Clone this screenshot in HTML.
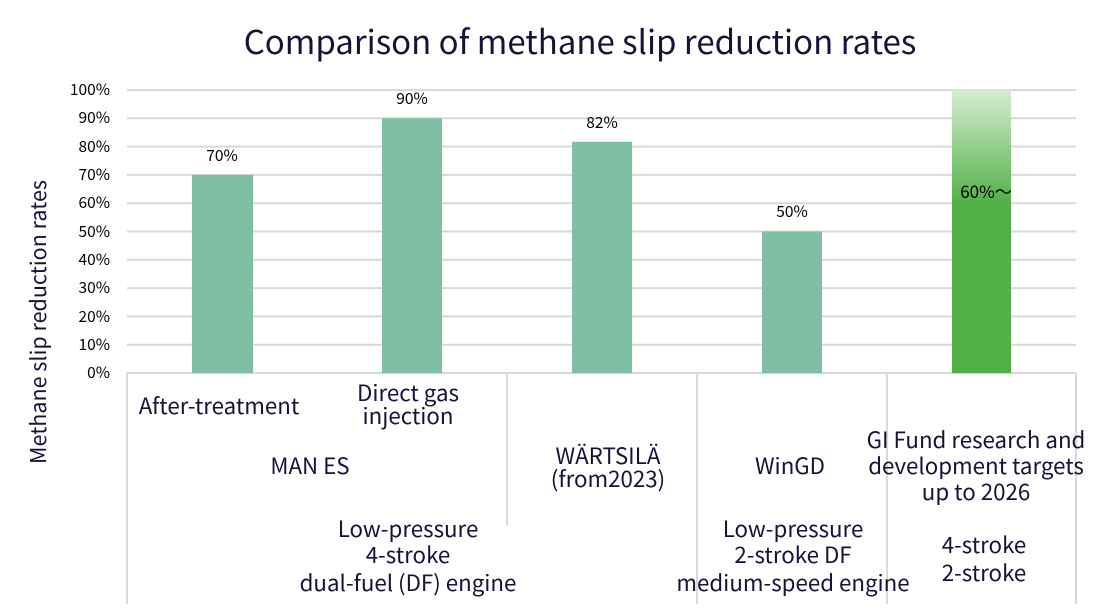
<!DOCTYPE html>
<html><head><meta charset="utf-8"><style>
html,body{margin:0;padding:0;background:#fff;}
svg{display:block;font-family:"Noto Sans CJK JP","Liberation Sans",sans-serif;}
</style></head><body>
<svg width="1100" height="614" viewBox="0 0 1100 614" xmlns="http://www.w3.org/2000/svg">
<defs>
<linearGradient id="g" x1="0" y1="0" x2="0" y2="1">
<stop offset="0" stop-color="#d6edd2"/>
<stop offset="0.4" stop-color="#52b048"/>
<stop offset="1" stop-color="#50b046"/>
</linearGradient>
</defs>
<text x="580" y="54" text-anchor="middle" font-size="33" fill="#14143a">Comparison of methane slip reduction rates</text>
<g stroke="#d9d9d9" stroke-width="2">
<line x1="127" x2="1076" y1="90" y2="90"/>
<line x1="127" x2="1076" y1="118.3" y2="118.3"/>
<line x1="127" x2="1076" y1="146.6" y2="146.6"/>
<line x1="127" x2="1076" y1="174.9" y2="174.9"/>
<line x1="127" x2="1076" y1="203.2" y2="203.2"/>
<line x1="127" x2="1076" y1="231.5" y2="231.5"/>
<line x1="127" x2="1076" y1="259.8" y2="259.8"/>
<line x1="127" x2="1076" y1="288.1" y2="288.1"/>
<line x1="127" x2="1076" y1="316.4" y2="316.4"/>
<line x1="127" x2="1076" y1="344.7" y2="344.7"/>
<line x1="127" x2="1076" y1="373" y2="373"/>
<line x1="127" x2="127" y1="373" y2="604"/>
<line x1="507" x2="507" y1="373" y2="525"/>
<line x1="697" x2="697" y1="373" y2="604"/>
<line x1="887" x2="887" y1="373" y2="604"/>
<line x1="1076" x2="1076" y1="373" y2="604"/>
</g>
<g font-size="15.5" fill="#000" text-anchor="end">
<text x="110" y="95">100%</text><text x="110" y="123">90%</text><text x="110" y="152">80%</text>
<text x="110" y="180">70%</text><text x="110" y="208">60%</text><text x="110" y="237">50%</text>
<text x="110" y="265">40%</text><text x="110" y="293">30%</text><text x="110" y="322">20%</text>
<text x="110" y="350">10%</text><text x="110" y="378">0%</text>
</g>
<text transform="translate(46,322) rotate(-90)" text-anchor="middle" font-size="21.5" fill="#14143a">Methane slip reduction rates</text>
<g fill="#7fc0a4">
<rect x="192" y="174.9" width="61" height="198.1"/>
<rect x="382" y="118.3" width="60" height="254.7"/>
<rect x="572" y="141.8" width="60" height="231.2"/>
<rect x="762" y="231.5" width="60" height="141.5"/>
</g>
<rect x="952" y="90" width="59" height="283" fill="url(#g)"/>
<g font-size="15.5" fill="#000" text-anchor="middle">
<text x="222" y="161">70%</text><text x="412" y="104">90%</text>
<text x="602" y="128">82%</text><text x="792" y="217">50%</text>
<text x="986" y="198" font-size="17">60%〜</text>
</g>
<g font-size="22.3" fill="#14143a" text-anchor="middle">
<text x="219" y="414">After-treatment</text>
<text x="408" y="401">Direct gas</text><text x="408" y="424">injection</text>
<text x="310" y="474">MAN ES</text>
<text x="608" y="464">WÄRTSILÄ</text><text x="608" y="487">(from2023)</text>
<text x="790" y="474">WinGD</text>
<text x="408" y="537">Low-pressure</text><text x="408" y="563">4-stroke</text><text x="408" y="591">dual-fuel (DF) engine</text>
<text x="793" y="537">Low-pressure</text><text x="793" y="563">2-stroke DF</text><text x="793" y="591">medium-speed engine</text>
<text x="976" y="448">GI Fund research and</text><text x="976" y="474">development targets</text><text x="976" y="500">up to 2026</text>
<text x="984" y="553">4-stroke</text><text x="984" y="581">2-stroke</text>
</g>
</svg>
</body></html>
